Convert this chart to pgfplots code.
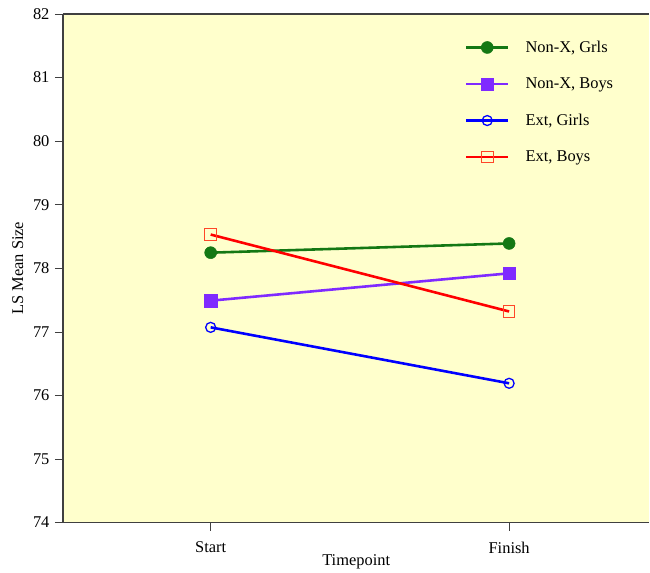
\documentclass[border=0pt]{standalone}
\usepackage{fontspec}
\setmainfont{Liberation Serif}
\usepackage{pgfplots}
\pgfplotsset{compat=1.18}
\definecolor{bgyel}{RGB}{255,255,204}
\definecolor{cgreen}{RGB}{20,120,20}
\definecolor{cpurple}{RGB}{127,42,255}
\definecolor{cblue}{RGB}{0,0,255}
\definecolor{cred}{RGB}{255,0,0}
\definecolor{cred2}{RGB}{255,70,40}
\begin{document}
\begin{tikzpicture}
\begin{axis}[
  scale only axis,
  width=587bp, height=509bp,
  xmin=0.505, xmax=2.47,
  ymin=74, ymax=82,
  axis lines*=left,
  axis line style={line width=1.2pt, draw=black!75},
  axis background/.style={fill=bgyel},
  xtick={1,2}, xticklabels={Start,Finish},
  ytick={74,75,...,82},
  tick align=outside,
  major tick length=8bp,
  tick style={black!75, line width=0.6pt},
  ticklabel style={font=\fontsize{16.5}{18}\selectfont},
  xticklabel style={yshift=-8bp},
  yticklabel style={xshift=-2bp},
  /pgf/number format/assume math mode=true,
  xlabel={Timepoint}, ylabel={LS Mean Size},
  label style={font=\fontsize{16.5}{18}\selectfont},
  xlabel style={yshift=6bp},
  ylabel style={yshift=3bp},
  legend style={draw=none, fill=none, at={(0.68,0.955)}, anchor=north west,
    font=\fontsize{16.5}{18}\selectfont, row sep=20bp,
    /tikz/every odd column/.style={column sep=14bp}},
  legend cell align=left,
  legend image code/.code={
    \draw[#1, mark=none, line width=2.7pt] (0bp,0bp) -- (42bp,0bp);
    \draw[#1, only marks] plot coordinates {(21bp,0bp)};
  },
]
\addplot[cgreen, line width=2.6pt, mark=*, mark size=6bp, mark options={fill=cgreen, line width=0.5pt}] coordinates {(1,78.245) (2,78.39)};
\addlegendentry{Non-X, Grls}
\addplot[cpurple, line width=2.6pt, mark=square*, mark size=6.3bp, mark options={fill=cpurple, line width=0.3pt}] coordinates {(1,77.49) (2,77.92)};
\addlegendentry{Non-X, Boys}
\addplot[cblue, line width=2.6pt, mark=o, mark size=5bp, mark options={line width=1.3pt}] coordinates {(1,77.07) (2,76.19)};
\addlegendentry{Ext, Girls}
\addplot[cred, line width=2.6pt, mark=square, mark size=5.8bp, mark options={draw=cred2, line width=1pt}] coordinates {(1,78.53) (2,77.32)};
\addlegendentry{Ext, Boys}
\draw[line width=1.2pt, draw=black!75] (rel axis cs:0,1) -- (rel axis cs:1,1);
\end{axis}
\path ([xshift=-63bp,yshift=14bp]current axis.north west) rectangle ([yshift=-50bp]current axis.south east);
\end{tikzpicture}
\end{document}
